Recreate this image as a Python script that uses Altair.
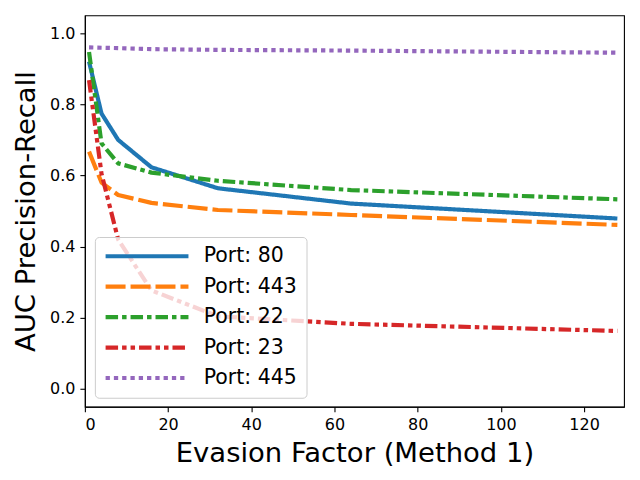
import altair as alt
import pandas as pd

evasion = [1, 4, 8, 16, 32, 64, 128]
ports = ["Port: 80", "Port: 443", "Port: 22", "Port: 23", "Port: 445"]
auc_80 = [0.920, 0.774, 0.700, 0.623, 0.564, 0.521, 0.479]
auc_443 = [0.667, 0.580, 0.545, 0.523, 0.503, 0.489, 0.461]
auc_22 = [0.947, 0.690, 0.634, 0.608, 0.585, 0.559, 0.533]
auc_23 = [0.868, 0.605, 0.420, 0.277, 0.204, 0.183, 0.163]
auc_445 = [0.960, 0.959, 0.958, 0.955, 0.953, 0.951, 0.945]

colors = ["#1f77b4", "#ff7f0e", "#2ca02c", "#d62728", "#9467bd"]
dashes = [[1, 0], [20, 5], [12.5, 4, 4.5, 4], [12.5, 4, 4.5, 4, 4.5, 4], [4.3, 4]]

rows = []
for name, vals in zip(ports, [auc_80, auc_443, auc_22, auc_23, auc_445]):
    for x, y in zip(evasion, vals):
        rows.append({"port": name, "x": x, "y": y})
df = pd.DataFrame(rows)

FONT = "DejaVu Sans"

legend = alt.Legend(
    title=None,
    orient="none",
    legendX=10,
    legendY=222,
    symbolType="M0,0H41.5",
    symbolSize=16,
    symbolStrokeWidth=4.17,
    symbolOffset=-8.5,
    labelFontSize=20.5,
    labelFont=FONT,
    labelColor="black",
    labelOffset=88,
    rowPadding=9.5,
    padding=9,
    fillColor="rgba(255,255,255,0.8)",
    strokeColor="#cccccc",
    cornerRadius=4,
)

chart = (
    alt.Chart(df)
    .mark_line(strokeWidth=4.17, strokeCap="butt", strokeJoin="round")
    .encode(
        x=alt.X(
            "x:Q",
            scale=alt.Scale(domain=[0, 129.6], nice=False, zero=False),
            axis=alt.Axis(
                title="Evasion Factor (Method 1)",
                values=[0, 20, 40, 60, 80, 100, 120],
                format="d",
            ),
        ),
        y=alt.Y(
            "y:Q",
            scale=alt.Scale(domain=[-0.05, 1.05], nice=False, zero=False),
            axis=alt.Axis(
                title="AUC Precision-Recall",
                values=[0.0, 0.2, 0.4, 0.6, 0.8, 1.0],
                format=".1f",
            ),
        ),
        color=alt.Color(
            "port:N",
            scale=alt.Scale(domain=ports, range=colors),
            sort=ports,
            legend=legend,
        ),
        strokeDash=alt.StrokeDash(
            "port:N",
            scale=alt.Scale(domain=ports, range=dashes),
            sort=ports,
            legend=legend,
        ),
    )
    .properties(
        width=540,
        height=392,
        autosize=alt.AutoSizeParams(type="none"),
        padding={"left": 77, "top": 7, "right": 8, "bottom": 70},
    )
    .configure_view(stroke="black", strokeWidth=1.1)
    .configure_axis(
        grid=False,
        domainColor="black",
        domainWidth=1.1,
        tickColor="black",
        tickWidth=1.1,
        tickSize=5,
        labelFont=FONT,
        labelFontSize=16,
        labelColor="black",
        labelPadding=5,
        titleFont=FONT,
        titleFontSize=27.5,
        titleFontWeight="normal",
        titleColor="black",
    )
    .configure_axisX(titlePadding=7)
    .configure_axisY(titlePadding=9)
)

chart.save("out.html", embed_options={"renderer": "svg", "actions": False})
